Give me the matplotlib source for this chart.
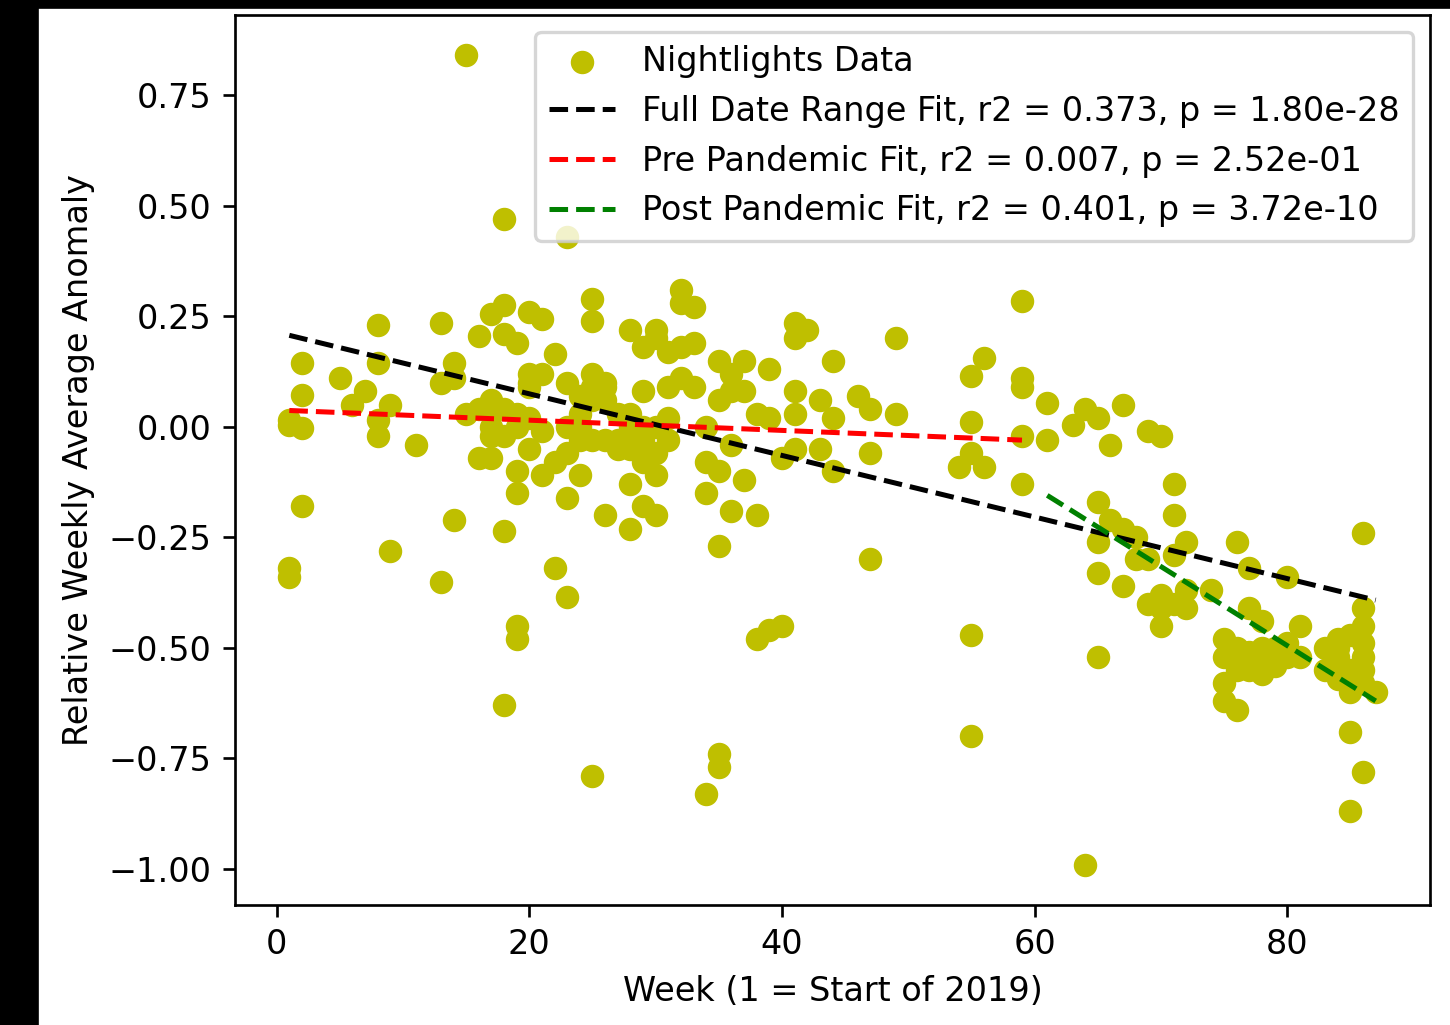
import matplotlib.pyplot as plt
from matplotlib.patches import Rectangle

# weekly anomaly points (week, value) grouped by week
weeks = (
    [1] * 4 + [2] * 4 + [5, 6, 7] + [8] * 4 + [9] * 2 + [11] + [13] * 3 + [14] * 3
    + [15] * 2 + [16] * 3 + [17] * 4 + [18] * 7 + [19] * 6 + [20] * 5 + [21] * 3
    + [22] * 3 + [23] * 6 + [24] * 3 + [25] * 7 + [26] * 3 + [27] * 2 + [28] * 5
    + [29] * 5 + [30] * 6 + [31] * 4 + [32] * 4 + [33] * 3 + [34] * 4 + [35] * 6
    + [36] * 4 + [37] * 3 + [38] * 3 + [39] * 3 + [40] * 2 + [41] * 5 + [42]
    + [43] * 2 + [44] * 3 + [46] + [47] * 3 + [49] * 2 + [54] + [55] * 5 + [56] * 2
    + [59] * 5 + [61] * 2 + [63] + [64] * 2 + [65] * 5 + [66] * 2 + [67] * 3
    + [68] * 2 + [69] * 3 + [70] * 4 + [71] * 4 + [72] * 3 + [74] + [75] * 4
    + [76] * 4 + [77] * 4 + [78] * 5 + [79] * 2 + [80] * 3 + [81] * 2 + [83] * 2
    + [84] * 3 + [85] * 5 + [86] * 7 + [87]
    # points hidden inside the dense clusters
    + [17, 17, 19, 20, 21, 24, 24, 26, 26, 27, 28, 29, 76, 77, 77, 78, 79, 84, 86]
)
anomaly = [
    0.015, -0.32, -0.34, 0.005,
    0.145, 0.073, -0.002, -0.18,
    0.11, 0.05, 0.08,
    0.23, 0.145, 0.015, -0.02,
    0.05, -0.28,
    -0.04,
    0.235, 0.10, -0.35,
    0.145, 0.11, -0.21,
    0.84, 0.03,
    0.205, 0.04, -0.07,
    0.255, 0.06, 0.0, -0.07,
    0.47, 0.275, 0.21, 0.04, -0.235, -0.63, -0.02,
    0.19, 0.03, -0.10, -0.15, -0.45, -0.48,
    0.26, 0.12, 0.09, 0.02, -0.05,
    0.245, 0.12, -0.11,
    0.165, -0.08, -0.32,
    0.43, 0.10, 0.0, -0.06, -0.16, -0.385,
    0.07, -0.03, -0.11,
    0.29, 0.24, 0.12, 0.09, 0.06, -0.03, -0.79,
    0.10, 0.06, -0.20,
    0.03, -0.03,
    0.22, 0.0, -0.05, -0.13, -0.23,
    0.18, 0.08, -0.03, -0.08, -0.18,
    0.22, 0.20, 0.0, -0.06, -0.11, -0.20,
    0.17, 0.09, 0.02, -0.03,
    0.31, 0.28, 0.11, 0.18,
    0.27, 0.19, 0.09,
    0.0, -0.15, -0.83, -0.08,
    0.15, 0.06, -0.10, -0.27, -0.74, -0.77,
    0.12, 0.08, -0.04, -0.19,
    0.15, 0.08, -0.12,
    0.03, -0.20, -0.48,
    0.13, 0.02, -0.46,
    -0.45, -0.07,
    0.235, 0.20, 0.08, 0.03, -0.05,
    0.22,
    0.06, -0.05,
    0.15, 0.02, -0.10,
    0.07,
    0.04, -0.06, -0.30,
    0.20, 0.03,
    -0.09,
    0.115, 0.01, -0.06, -0.47, -0.70,
    0.155, -0.09,
    0.285, 0.11, 0.09, -0.02, -0.13,
    0.055, -0.03,
    0.005,
    0.04, -0.99,
    0.02, -0.17, -0.26, -0.33, -0.52,
    -0.04, -0.21,
    0.05, -0.23, -0.36,
    -0.30, -0.25,
    -0.01, -0.40, -0.30,
    -0.02, -0.41, -0.38, -0.45,
    -0.13, -0.20, -0.29, -0.40,
    -0.26, -0.41, -0.37,
    -0.37,
    -0.48, -0.58, -0.62, -0.52,
    -0.26, -0.64, -0.50, -0.55,
    -0.32, -0.41, -0.53, -0.54,
    -0.44, -0.50, -0.54, -0.52, -0.56,
    -0.50, -0.54,
    -0.34, -0.49, -0.52,
    -0.45, -0.52,
    -0.50, -0.55,
    -0.48, -0.52, -0.57,
    -0.47, -0.60, -0.69, -0.87, -0.55,
    -0.24, -0.41, -0.45, -0.52, -0.55, -0.78, -0.58,
    -0.60,
    -0.02, 0.03, 0.0, 0.10, -0.01, 0.0, 0.03, -0.03, 0.09, -0.05, 0.03, 0.0,
    -0.53, -0.51, -0.55, -0.53, -0.52, -0.50, -0.49,
]

# fit line end points as drawn
full_fit_x = [1, 87]
full_fit_y = [0.207, -0.392]
pre_fit_x = [1, 59]
pre_fit_y = [0.037, -0.03]
post_fit_x = [61, 87]
post_fit_y = [-0.155, -0.62]

labels = [
    'Nightlights Data',
    'Full Date Range Fit, r2 = 0.373, p = 1.80e-28',
    'Pre Pandemic Fit, r2 = 0.007, p = 2.52e-01',
    'Post Pandemic Fit, r2 = 0.401, p = 3.72e-10',
]

fig = plt.figure(figsize=(1450 / 241, 1025 / 241), dpi=241, facecolor='black')
# white page area, the reference has a black strip on the left and top
fig.patches.append(Rectangle((40 / 1450, 0), 1, 1 - 10 / 1025,
                             transform=fig.transFigure, color='white', zorder=-1))
ax = fig.add_axes([235 / 1450, 1 - 905 / 1025, 1195 / 1450, 890 / 1025])

ax.scatter(weeks, anomaly, color='y', label=labels[0])
ax.plot(full_fit_x, full_fit_y, 'k--', label=labels[1])
ax.plot(pre_fit_x, pre_fit_y, 'r--', label=labels[2])
ax.plot(post_fit_x, post_fit_y, 'g--', label=labels[3])

ax.set_xlim(-3.3, 91.3)
ax.set_ylim(-1.0815, 0.9315)
ax.set_xlabel('Week (1 = Start of 2019)')
ax.set_ylabel('Relative Weekly Average Anomaly')
ax.legend(loc='upper right')

fig.savefig('out.png', dpi=241, facecolor=fig.get_facecolor())
